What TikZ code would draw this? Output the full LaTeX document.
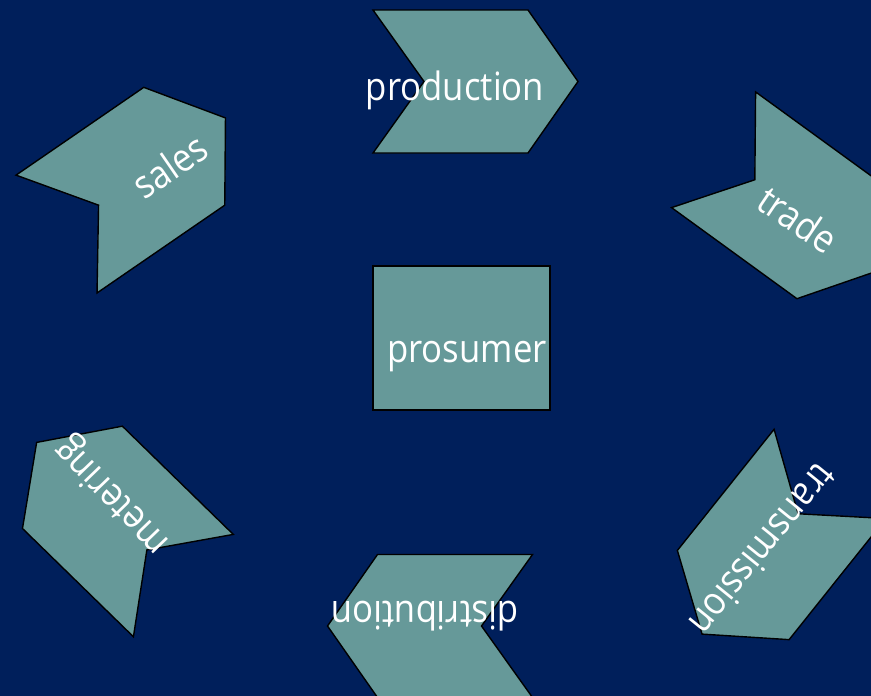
\documentclass[tikz,border=0pt]{standalone}
\usepackage{fontspec}
\setmainfont{Open Sans}[FakeStretch=0.89]
\definecolor{navybg}{RGB}{0,31,91}
\definecolor{chevfill}{RGB}{102,153,153}
\begin{document}
\begin{tikzpicture}[x=1pt,y=-1pt,
  chevstyle/.style={fill=chevfill,draw=black,line width=1.4pt,line join=miter},
  lbl/.style={text=white,font=\fontsize{39}{44}\selectfont,inner sep=0pt,
              text height=30pt,text depth=8pt,anchor=center},
  chev/.pic={\path[chevstyle] (-102.5,-71.5) -- (52.5,-71.5) -- (102.5,0)
      -- (52.5,71.5) -- (-102.5,71.5) -- (-51.5,0) -- cycle;}]
  % canvas
  \useasboundingbox (0,0) rectangle (871,696);
  \fill[navybg] (0,0) rectangle (871,696);
  \clip (0,0) rectangle (871,696);

  % ring of chevrons
  \pic[rotate=0]      at (475.5,81.5) {chev};
  \pic[rotate=-36]    at (796.5,210)  {chev};
  \pic[rotate=-128.6] at (766,554)    {chev};
  \pic[rotate=180]    at (430,626)    {chev};
  \pic[rotate=135.7]  at (110,514)    {chev};
  \pic[rotate=34.5]   at (141,176)    {chev};

  % centre box
  \node[chevstyle,minimum width=177pt,minimum height=144pt,inner sep=0pt]
    (box) at (461.5,338) {};

  % labels
  \node[lbl] (production)   at (455,89)  {production};
  \node[lbl,rotate=-34]  (trade)        at (796,222)  {trade};
  \node[lbl,rotate=-129] (transmission) at (761,548)  {transmission};
  \node[lbl,rotate=180]  (distribution) at (425,612)  {distribution};
  \node[lbl,rotate=134]  (metering)     at (112,496)  {metering};
  \node[lbl,rotate=34.5] (sales)        at (172,169)  {sales};
  \node[lbl] (prosumer) at (467,351) {prosumer};
\end{tikzpicture}
\end{document}
